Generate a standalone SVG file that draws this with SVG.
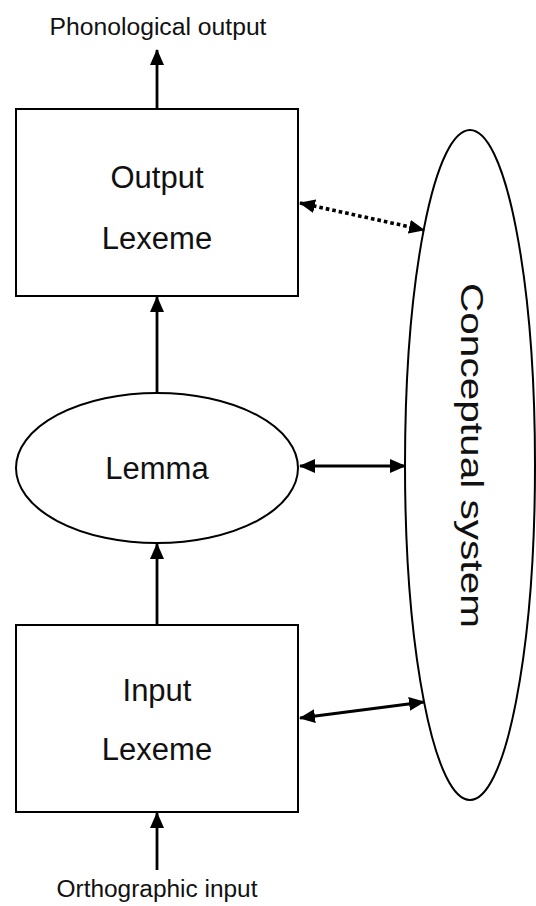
<svg xmlns="http://www.w3.org/2000/svg" width="536" height="906" viewBox="0 0 536 906">
<style>
.box{fill:#fff;stroke:#000;stroke-width:2}
.t{font-family:"Liberation Sans",Arial,sans-serif;fill:#111;text-anchor:middle}
.big{font-size:31px}
.lbl{font-size:23px}
.c{fill:none;stroke:#000;stroke-width:2.8}
.dot{stroke-width:3.6;stroke-dasharray:3.6 3}
</style>
<defs>
<marker id="ah" markerUnits="userSpaceOnUse" markerWidth="16" markerHeight="14" refX="15" refY="7" orient="auto-start-reverse">
<path d="M0,0 L16,7 L0,14 Z" fill="#000"/>
</marker>
</defs>
<rect width="536" height="906" fill="#fff"/>
<g id="output-lexeme">
<rect class="box" x="16" y="109" width="282" height="187"/>
<text class="t big" x="157" y="188">Output</text>
<text class="t big" x="157" y="249">Lexeme</text>
</g>
<g id="lemma">
<ellipse class="box" cx="157" cy="468" rx="141" ry="75"/>
<text class="t big" x="157" y="479">Lemma</text>
</g>
<g id="input-lexeme">
<rect class="box" x="16" y="625" width="282" height="187"/>
<text class="t big" x="157" y="701">Input</text>
<text class="t big" x="157" y="760">Lexeme</text>
</g>
<g id="conceptual-system">
<ellipse class="box" cx="470" cy="465" rx="65" ry="335"/>
<text class="t" font-size="31" transform="translate(461,455.5) rotate(90)" x="0" y="0" textLength="345" lengthAdjust="spacingAndGlyphs">Conceptual system</text>
</g>
<g id="phonological-output">
<text class="t lbl" x="158" y="35" textLength="217" lengthAdjust="spacingAndGlyphs">Phonological output</text>
</g>
<g id="orthographic-input">
<text class="t lbl" x="157" y="897" textLength="201" lengthAdjust="spacingAndGlyphs">Orthographic input</text>
</g>
<g id="connectors">
<line class="c" x1="157" y1="108" x2="157" y2="50" marker-end="url(#ah)"/>
<line class="c" x1="157" y1="393" x2="157" y2="297" marker-end="url(#ah)"/>
<line class="c" x1="157" y1="625" x2="157" y2="544" marker-end="url(#ah)"/>
<line class="c" x1="157" y1="870" x2="157" y2="813" marker-end="url(#ah)"/>
<line class="c dot" x1="300" y1="203" x2="424" y2="230" marker-start="url(#ah)" marker-end="url(#ah)"/>
<line class="c" x1="300" y1="466" x2="405" y2="466" marker-start="url(#ah)" marker-end="url(#ah)"/>
<line class="c" x1="300" y1="718" x2="424" y2="702" marker-start="url(#ah)" marker-end="url(#ah)"/>
</g>
</svg>
